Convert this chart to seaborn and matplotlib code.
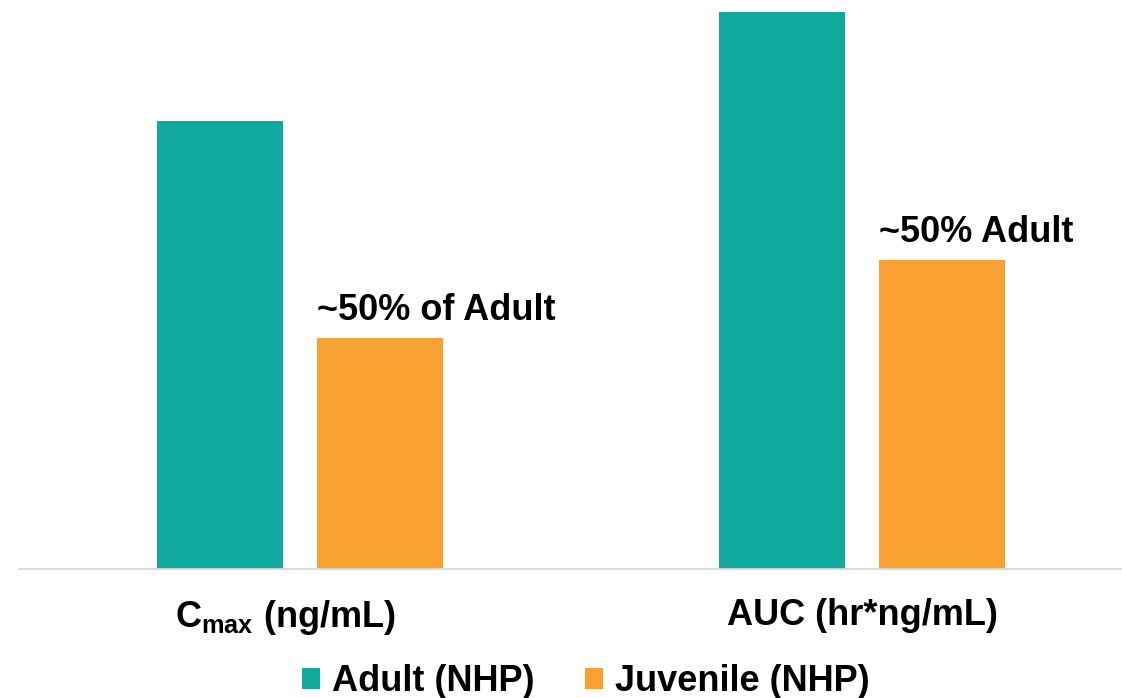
import matplotlib
matplotlib.use("Agg")
import matplotlib.pyplot as plt
from matplotlib.patches import Patch
from matplotlib.transforms import ScaledTranslation
import pandas as pd
import seaborn as sns

# ---- data (relative units) ----
categories = ["C$_{\\mathbf{max}}$ (ng/mL)", "AUC (hr*ng/mL)"]
groups = ["Adult (NHP)", "Juvenile (NHP)"]
adult_values = [448, 557]
juvenile_values = [231, 309]
annotations = ["~50% of Adult", "~50% Adult"]
colors = ["#11A99E", "#F9A132"]

df = pd.DataFrame({
    "metric": categories * 2,
    "group": [groups[0]] * len(categories) + [groups[1]] * len(categories),
    "value": adult_values + juvenile_values,
})

sns.set_theme(style="white")
plt.rcParams["font.family"] = ["Liberation Sans", "DejaVu Sans"]
plt.rcParams["mathtext.fontset"] = "custom"
plt.rcParams["mathtext.bf"] = "Liberation Sans:bold"
plt.rcParams["mathtext.rm"] = "Liberation Sans:bold"
plt.rcParams["text.color"] = "black"
plt.rcParams["xtick.color"] = "black"

W, H = 1122, 698
fig = plt.figure(figsize=(W / 100, H / 100), dpi=100)
ax = fig.add_axes([19 / W, 129 / H, 1124 / W, 569 / H])

sns.barplot(data=df, x="metric", y="value", hue="group",
            order=categories, hue_order=groups, palette=colors,
            width=0.569, gap=0.2125, linewidth=0, saturation=1,
            legend=False, ax=ax)

ax.set_xlim(-0.5, 1.5)
ax.set_ylim(0, 569)
ax.set_yticks([])
ax.set_xlabel("")
ax.set_ylabel("")
for s in ["left", "right", "top"]:
    ax.spines[s].set_visible(False)
ax.spines["bottom"].set_color("#D9D9D9")
ax.spines["bottom"].set_linewidth(1.3)
ax.tick_params(axis="x", length=0, pad=21, labelsize=26, labelcolor="black")
labels = ax.get_xticklabels()
for lbl in labels:
    lbl.set_fontweight("bold")
    lbl.set_color("black")
labels[0].set_transform(labels[0].get_transform()
                        + ScaledTranslation(-15 / 100, 0, fig.dpi_scale_trans))

# annotations above juvenile bars
for bar, txt in zip(ax.containers[1], annotations):
    ax.annotate(txt, xy=(bar.get_x(), bar.get_height()), xytext=(0, 13),
                textcoords="offset points", ha="left", va="baseline",
                fontsize=26, fontweight="bold", color="black")

handles = [Patch(facecolor=c, edgecolor="none") for c in colors]
leg = fig.legend(handles, groups, loc="lower center", bbox_to_anchor=(586 / W, -0.002),
                 ncol=2, frameon=False, prop={"size": 26, "weight": "bold"},
                 handlelength=0.5, handleheight=0.5, handletextpad=0.33,
                 columnspacing=1.4, borderpad=0, borderaxespad=0)
for t in leg.get_texts():
    t.set_color("black")

fig.savefig("out.png", dpi=100)
